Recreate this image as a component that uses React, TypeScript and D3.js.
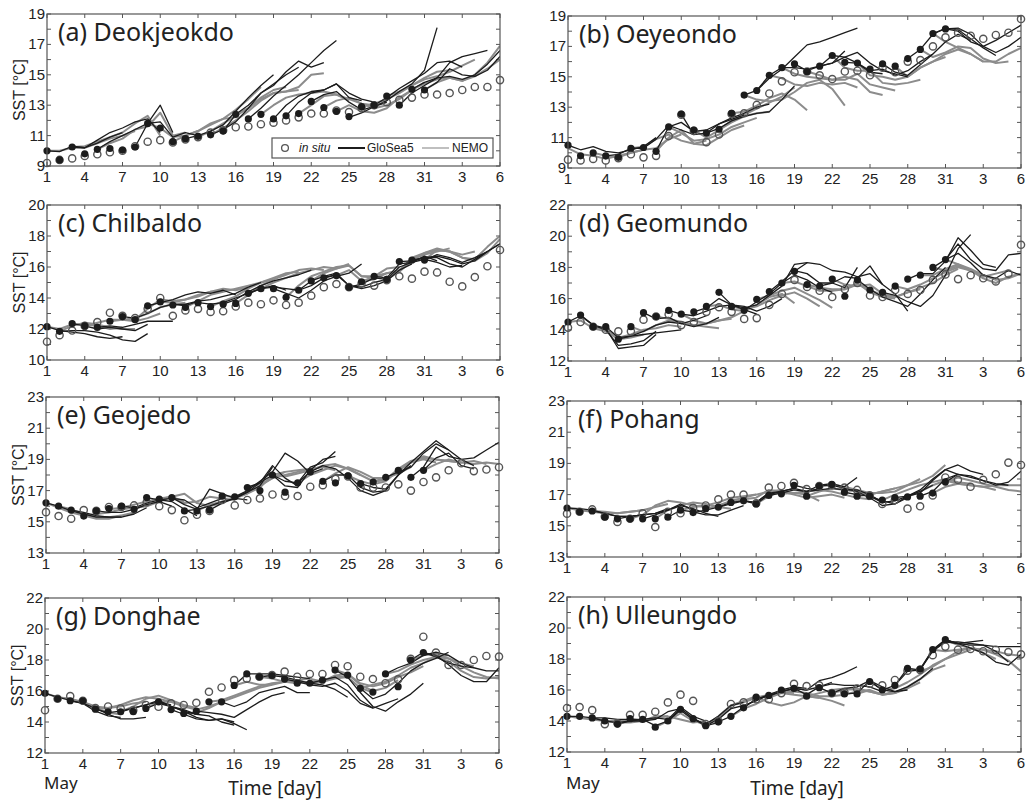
import React from "react";
import * as d3 from "d3";

// Day index: 1..31 = May 1..31, 32..37 = June 1..6
const DAYS = d3.range(1, 38);
const X_TICK_DAYS = [1, 4, 7, 10, 13, 16, 19, 22, 25, 28, 31, 34, 37];
const X_TICK_LABELS = ["1", "4", "7", "10", "13", "16", "19", "22", "25", "28", "31", "3", "6"];

const STATIONS = ["Deokjeokdo", "Oeyeondo", "Chilbaldo", "Geomundo", "Geojedo", "Pohang", "Donghae", "Ulleungdo"];
const PANEL_TAGS = ["(a)", "(b)", "(c)", "(d)", "(e)", "(f)", "(g)", "(h)"];
const Y_DOMAINS: [number, number][] = [[9, 19], [9, 19], [10, 20], [12, 22], [13, 23], [13, 23], [12, 22], [12, 22]];

// in situ SST, one value per day (May 1 - June 6)
const deokjeokdoInSitu = [9.2, 9.4, 9.5, 9.66, 9.77, 9.9, 10.0, 10.3, 10.6, 10.7, 10.55, 10.75, 10.9, 11.2, 11.35, 11.55, 11.6, 11.75, 11.85, 12.0, 12.2, 12.45, 12.45, 12.65, 12.55, 12.8, 13.0, 13.2, 13.35, 13.5, 13.7, 13.7, 13.8, 14.0, 14.2, 14.2, 14.65];
const oeyeondoInSitu = [9.55, 9.5, 9.6, 9.5, 9.65, 9.9, 9.7, 9.8, 11.1, 12.5, 11.45, 10.7, 11.2, 12.55, 12.6, 13.15, 13.9, 14.7, 15.3, 15.35, 15.1, 14.85, 15.35, 15.4, 15.1, 15.6, 15.3, 16.0, 16.1, 17.0, 17.6, 17.9, 17.7, 17.5, 17.75, 17.9, 18.8];
const chilbaldoInSitu = [11.18, 11.6, 11.9, 12.2, 12.45, 13.05, 12.85, 12.7, 13.3, 14.0, 12.85, 13.2, 13.3, 13.1, 13.15, 13.45, 13.7, 13.6, 13.85, 13.55, 13.7, 14.15, 14.7, 14.9, 14.7, 14.95, 14.8, 15.15, 15.4, 15.25, 15.7, 15.65, 15.05, 14.75, 15.35, 16.05, 17.1];
const geomundoInSitu = [14.14, 14.5, 14.2, 14.0, 13.9, 13.9, 14.65, 14.85, 15.0, 14.3, 14.5, 15.15, 15.45, 15.15, 14.7, 14.75, 15.6, 16.3, 17.2, 16.75, 16.5, 16.1, 16.6, 17.0, 16.2, 16.1, 16.55, 16.3, 16.55, 17.2, 17.55, 17.25, 17.5, 17.3, 17.1, 17.6, 19.45];
const geojedoInSitu = [15.62, 15.37, 15.2, 15.75, 15.7, 15.95, 15.95, 16.05, 16.25, 16.0, 15.75, 15.1, 15.45, 15.7, 16.4, 16.05, 16.4, 16.5, 16.75, 16.65, 16.65, 17.25, 17.35, 17.75, 17.9, 17.2, 17.2, 17.2, 17.4, 17.0, 17.55, 17.85, 18.3, 18.75, 18.25, 18.35, 18.5];
const pohangInSitu = [15.78, 15.9, 16.05, 15.6, 15.25, 15.45, 15.8, 14.92, 15.9, 15.8, 16.15, 16.3, 16.7, 17.0, 17.0, 16.45, 17.45, 17.55, 17.75, 17.35, 17.55, 17.6, 17.45, 17.3, 16.95, 16.4, 16.65, 16.1, 16.25, 16.95, 18.1, 17.95, 17.5, 17.95, 18.3, 19.05, 18.9];
const donghaeInSitu = [14.76, 15.5, 15.67, 15.37, 14.9, 15.0, 14.87, 14.76, 15.1, 14.98, 15.2, 15.1, 15.24, 15.95, 16.23, 16.7, 16.8, 16.92, 17.03, 17.25, 16.92, 17.1, 17.1, 17.68, 17.6, 16.92, 16.77, 16.5, 16.75, 18.07, 19.5, 18.48, 17.68, 17.68, 18.0, 18.26, 18.22];
const ulleungdoInSitu = [14.84, 14.9, 14.7, 13.8, 13.85, 14.4, 14.4, 14.6, 15.2, 15.7, 15.3, 13.8, 14.0, 15.1, 15.2, 15.4, 15.4, 15.8, 16.4, 16.25, 16.3, 15.8, 15.85, 16.1, 16.4, 16.3, 16.65, 17.25, 17.3, 18.25, 18.8, 18.6, 18.65, 18.5, 18.6, 18.45, 18.3];

// GloSea5 initial-condition SST (filled dots), May 1 - 31
const deokjeokdoInit = [10.0, 9.4, 10.25, 9.8, 10.1, 10.15, 10.05, 10.25, 11.8, 11.5, 10.6, 10.8, 10.95, 11.05, 11.3, 12.4, 12.1, 12.4, 12.1, 12.3, 12.45, 13.25, 12.85, 12.6, 12.25, 12.9, 13.0, 13.6, 13.0, 14.05, 14.0];
const oeyeondoInit = [10.5, 9.8, 10.0, 9.8, 9.7, 10.3, 10.35, 10.1, 11.7, 12.55, 11.5, 11.3, 11.55, 12.6, 13.8, 14.1, 15.1, 15.6, 15.85, 15.35, 15.7, 16.4, 15.95, 15.9, 15.5, 15.85, 15.7, 16.2, 16.8, 17.85, 18.15];
const chilbaldoInit = [12.15, 11.85, 12.35, 12.2, 12.1, 12.5, 12.8, 12.6, 13.5, 13.75, 13.55, 13.4, 13.7, 13.45, 13.6, 13.65, 14.3, 14.6, 14.6, 14.05, 14.5, 15.1, 15.3, 15.45, 14.7, 15.05, 15.4, 15.2, 16.35, 16.45, 16.45];
const geomundoInit = [14.5, 14.95, 14.2, 14.2, 13.4, 14.2, 15.1, 14.85, 15.25, 15.0, 15.15, 15.5, 16.4, 15.5, 15.25, 15.95, 16.45, 17.0, 17.75, 16.9, 16.8, 17.25, 16.15, 17.2, 16.55, 16.4, 16.8, 17.25, 17.5, 18.0, 18.5];
const geojedoInit = [16.22, 16.0, 15.75, 15.37, 15.7, 15.85, 16.0, 15.8, 16.55, 16.45, 16.55, 15.7, 15.7, 15.75, 16.65, 16.6, 17.2, 17.0, 18.0, 16.9, 17.5, 18.2, 17.6, 17.5, 17.95, 17.45, 17.55, 17.85, 18.3, 17.85, 18.3];
const pohangInit = [16.14, 15.9, 15.95, 15.55, 15.45, 15.45, 15.45, 15.45, 15.55, 16.0, 15.85, 16.1, 16.2, 16.5, 16.6, 16.4, 16.95, 17.05, 17.6, 16.9, 17.55, 17.65, 17.15, 16.9, 16.9, 16.65, 16.8, 16.85, 16.9, 17.1, 17.8];
const donghaeInit = [15.85, 15.5, 15.37, 15.37, 14.83, 14.66, 14.66, 14.66, 14.87, 15.3, 14.8, 14.55, 14.7, 15.3, 15.3, 16.36, 17.1, 16.92, 17.0, 16.77, 16.5, 16.5, 16.7, 17.35, 17.03, 16.17, 15.93, 17.1, 16.28, 18.0, 18.48];
const ulleungdoInit = [14.3, 14.3, 14.2, 14.0, 13.8, 14.15, 14.1, 13.6, 14.0, 14.75, 14.15, 13.7, 13.95, 14.3, 14.85, 15.55, 15.65, 16.0, 16.1, 15.6, 16.15, 15.8, 15.75, 15.75, 16.55, 16.0, 16.3, 17.4, 17.35, 18.6, 19.25];

// Forecast runs: [start day, SST at start day, next day, ...]
const deokjeokdoGloSea5 = [
  [1, 10.0, 9.95, 10.3, 10.2, 10.5, 10.9, 11.2],
  [3, 10.25, 10.2, 10.7, 11.2, 11.5, 11.9, 12.1, 11.2],
  [5, 10.1, 10.6, 11.0, 11.4, 11.8, 13.0, 11.2],
  [8, 10.25, 11.8, 11.9, 10.9, 11.2, 11.0],
  [12, 10.8, 11.0, 11.3, 11.7, 12.6, 13.5, 14.3, 15.0],
  [14, 11.05, 11.4, 11.9, 12.8, 13.8, 14.4, 15.0, 15.5],
  [15, 11.3, 12.4, 13.0, 13.8, 14.3, 15.2, 15.9, 15.5, 15.8],
  [17, 12.1, 12.8, 13.6, 14.3, 15.0, 15.8, 16.6, 17.25],
  [19, 12.1, 13.0, 13.6, 13.9, 14.0, 14.4, 13.5, 13.3],
  [20, 12.3, 13.2, 13.8, 14.0, 14.4, 13.8, 13.4, 13.2],
  [22, 13.25, 13.7, 13.9, 13.2, 12.7, 12.9, 13.2],
  [25, 12.2, 12.5, 12.9, 13.3, 13.9, 14.4, 15.3, 18.1],
  [27, 13.0, 13.5, 14.1, 14.6, 15.1, 15.8, 15.9, 15.5],
  [29, 13.0, 13.8, 14.3, 14.8, 15.8, 16.2, 16.4, 16.6],
  [30, 14.05, 14.5, 14.8, 14.9, 14.7, 15.0, 15.7, 16.6],
  [31, 14.0, 14.5, 15.4, 15.0, 14.9, 15.3, 16.2],
];
const deokjeokdoNemo = [
  [1, 10.0, 10.0, 10.2, 10.2, 10.5, 10.8, 11.0, 11.3],
  [3, 10.25, 10.3, 10.6, 10.9, 11.2, 11.8, 12.3, 11.0],
  [5, 10.1, 10.5, 10.8, 11.4, 11.6, 12.5, 11.0, 11.2],
  [9, 11.8, 11.5, 10.9, 11.0, 11.3, 11.8, 12.1, 12.2],
  [11, 10.6, 11.0, 11.3, 11.7, 12.1, 12.7, 13.4, 14.2],
  [13, 10.9, 11.3, 11.8, 12.3, 12.8, 13.5, 14.0, 14.2],
  [14, 11.05, 11.5, 12.0, 12.6, 13.3, 13.8, 13.9, 14.0],
  [16, 12.4, 12.8, 13.4, 13.8, 13.9, 14.2, 15.0, 15.1],
  [18, 12.4, 13.0, 13.5, 13.7, 13.8, 13.9, 13.7, 13.3],
  [21, 12.45, 13.0, 13.6, 13.7, 13.4, 13.1, 13.0, 13.2],
  [23, 12.85, 13.3, 13.5, 13.1, 12.8, 13.0, 13.4, 14.0],
  [24, 12.6, 13.0, 12.6, 12.5, 12.8, 13.5, 14.0, 14.5],
  [26, 12.9, 13.1, 13.4, 13.8, 14.3, 14.8, 15.2, 15.3],
  [28, 13.6, 13.9, 14.3, 14.7, 14.9, 15.2, 15.6, 16.0],
  [30, 14.05, 14.4, 14.7, 14.8, 14.6, 15.0, 15.8, 16.9],
  [31, 14.0, 14.5, 14.8, 14.6, 14.9, 15.4, 16.0],
];

const oeyeondoGloSea5 = [
  [1, 10.5, 10.2, 10.4, 10.1, 10.0, 10.2, 10.4, 11.0],
  [4, 9.8, 9.9, 10.3, 10.3, 10.9, 11.8, 11.5, 11.2],
  [8, 10.1, 11.7, 12.0, 11.4, 11.5, 11.9, 12.2, 12.5],
  [10, 12.55, 11.2, 11.3, 11.9, 12.3, 12.6, 13.0, 13.2],
  [12, 11.3, 11.6, 12.1, 12.4, 12.6, 12.7, 13.5, 14.4],
  [15, 13.8, 14.1, 15.1, 15.6, 15.6, 15.5, 15.7, 15.9, 16.7],
  [16, 14.1, 14.9, 15.5, 16.3, 17.1, 17.3, 17.6, 17.9, 18.2],
  [19, 15.85, 15.4, 15.7, 16.4, 16.3, 15.9, 15.3, 15.2],
  [21, 15.7, 15.9, 16.3, 16.6, 15.9, 15.4, 15.2, 15.0],
  [23, 15.95, 15.9, 15.4, 15.5, 15.1, 15.4, 16.0, 16.5],
  [26, 15.85, 15.3, 15.1, 15.8, 16.5, 17.3, 17.8, 17.4],
  [28, 16.2, 16.8, 17.8, 18.2, 18.1, 17.5, 16.9, 16.4],
  [30, 17.85, 18.15, 18.0, 17.3, 17.0, 17.4, 17.9, 18.4],
  [31, 18.15, 18.2, 17.8, 17.0, 16.6, 17.0, 17.6],
];
const oeyeondoNemo = [
  [1, 10.3, 9.9, 9.8, 9.6, 9.8, 10.0, 10.2],
  [3, 10.0, 9.8, 9.7, 10.0, 10.2, 10.3, 10.9, 11.2],
  [6, 10.3, 10.4, 10.9, 11.2, 10.8, 10.6, 10.8],
  [8, 10.1, 11.0, 11.5, 10.6, 10.5, 11.0, 11.5, 11.8],
  [9, 11.7, 11.3, 10.8, 10.9, 11.2, 11.7, 12.0, 12.3],
  [11, 11.5, 11.0, 11.5, 12.0, 12.4, 12.6, 12.7],
  [13, 11.55, 12.1, 12.5, 12.9, 13.3, 13.7, 14.3],
  [14, 12.6, 12.7, 13.1, 13.6, 13.9, 13.5, 12.8],
  [15, 13.8, 13.5, 13.4, 13.5, 14.0, 14.6, 14.8, 14.2, 13.1],
  [17, 15.1, 14.9, 14.5, 14.4, 14.6, 14.5, 14.6, 14.3],
  [18, 15.6, 15.2, 15.0, 14.9, 14.8, 15.0, 14.8, 14.0, 13.8],
  [20, 15.35, 15.1, 14.8, 14.8, 15.2, 14.5, 14.3, 14.1],
  [22, 16.4, 15.6, 15.4, 15.4, 14.6, 14.5, 14.6, 14.8],
  [24, 15.9, 15.1, 15.0, 14.8, 15.0, 15.6, 16.0, 16.3],
  [27, 15.7, 15.0, 15.6, 16.0, 16.5, 16.8, 16.5, 16.0],
  [29, 16.8, 16.3, 16.6, 17.0, 16.9, 16.2, 15.9, 16.0],
  [30, 17.85, 17.3, 16.9, 16.5, 16.0, 16.0, 16.5, 16.9],
];

const chilbaldoGloSea5 = [
  [1, 12.15, 11.9, 11.8, 11.7, 11.5, 11.4, 11.5],
  [2, 11.85, 11.9, 11.9, 11.8, 11.6, 11.3, 11.2, 11.7],
  [3, 12.35, 12.2, 12.0, 12.1, 12.0, 11.9, 12.3],
  [5, 12.1, 12.2, 12.1, 12.3, 12.5, 12.5, 12.5],
  [7, 12.8, 12.7, 13.0, 13.4, 13.6, 13.5, 13.8],
  [9, 13.5, 13.7, 13.9, 14.2, 14.4, 14.3, 14.5, 14.2],
  [11, 13.55, 13.6, 13.8, 13.9, 14.1, 14.3, 14.7, 15.0],
  [13, 13.7, 13.6, 13.7, 14.0, 14.3, 14.6, 14.8, 14.5],
  [15, 13.6, 13.9, 14.4, 14.8, 15.1, 15.3, 15.5, 15.8],
  [17, 14.3, 14.6, 14.7, 14.6, 14.5, 14.8, 15.3, 15.5],
  [19, 14.6, 14.3, 14.0, 14.5, 15.1, 15.4, 15.6, 16.2],
  [21, 14.5, 15.1, 15.4, 15.6, 14.8, 14.7, 15.0, 15.2],
  [23, 15.3, 15.5, 14.8, 14.6, 14.8, 15.1, 15.8, 16.2],
  [25, 14.7, 14.9, 15.3, 15.2, 16.0, 16.3, 16.7, 16.4],
  [27, 15.4, 15.3, 16.2, 16.3, 16.5, 16.3, 16.0, 16.1],
  [29, 16.35, 16.4, 16.6, 16.6, 16.2, 16.0, 16.5, 17.0],
  [30, 16.45, 16.6, 16.7, 16.5, 16.2, 16.4, 17.0, 17.5],
  [31, 16.45, 16.8, 16.6, 16.3, 16.6, 17.0, 17.5],
];
const chilbaldoNemo = [
  [1, 12.15, 12.0, 12.3, 12.3, 12.2, 12.0, 12.1],
  [2, 11.85, 12.2, 12.4, 12.3, 12.1, 12.0, 12.0],
  [4, 12.2, 12.4, 12.6, 12.6, 12.5, 12.7, 13.0],
  [6, 12.5, 12.6, 12.7, 13.0, 13.4, 13.6, 13.7],
  [8, 12.6, 13.3, 13.9, 13.8, 13.9, 14.2, 14.4, 14.4],
  [10, 13.75, 13.7, 13.9, 14.1, 14.4, 14.6, 14.5, 14.7],
  [12, 13.4, 13.8, 14.2, 14.4, 14.6, 14.8, 15.0, 15.2],
  [14, 13.45, 13.8, 14.1, 14.6, 15.0, 15.3, 15.6, 15.7],
  [16, 13.65, 14.2, 14.8, 15.2, 15.5, 15.8, 15.9, 15.8],
  [18, 14.6, 15.0, 15.3, 15.6, 15.8, 16.0, 15.9, 16.2],
  [20, 14.05, 14.8, 15.4, 15.7, 16.0, 16.1, 15.4, 15.3],
  [22, 15.1, 15.6, 15.9, 16.1, 15.4, 15.4, 15.9, 16.0],
  [24, 15.45, 15.8, 15.1, 15.2, 15.6, 15.7, 16.4, 16.6],
  [26, 15.05, 15.4, 15.6, 15.8, 16.5, 16.8, 17.0, 17.2],
  [28, 15.2, 15.7, 16.6, 16.9, 17.1, 17.0, 16.8, 17.0],
  [30, 16.45, 16.9, 17.2, 17.0, 16.6, 16.5, 17.3, 18.0],
  [31, 16.45, 17.1, 17.0, 16.6, 16.4, 16.9, 17.8],
];

const geomundoGloSea5 = [
  [1, 14.5, 14.9, 14.3, 14.0, 13.0, 13.1, 13.3, 13.9],
  [2, 14.95, 14.3, 14.1, 12.8, 12.9, 13.0, 13.7],
  [4, 14.2, 13.5, 13.6, 13.7, 13.8, 13.9, 14.0],
  [5, 13.4, 13.6, 13.9, 14.3, 14.5, 14.4, 14.6, 14.9],
  [7, 15.1, 14.7, 14.8, 14.4, 14.2, 14.4, 14.8],
  [9, 15.25, 15.0, 14.9, 15.2, 15.5, 15.6, 15.3, 15.0],
  [11, 15.15, 15.4, 16.0, 15.6, 15.5, 15.2, 15.5, 16.0],
  [13, 16.4, 15.6, 15.4, 15.6, 16.2, 16.8, 18.2, 18.3],
  [15, 15.25, 15.8, 16.3, 17.0, 17.5, 17.2, 16.7, 16.4],
  [17, 16.45, 17.1, 17.8, 17.6, 17.0, 17.0, 16.7, 18.0],
  [19, 17.75, 18.3, 18.2, 17.8, 17.7, 17.4, 17.6, 16.9],
  [21, 16.8, 17.0, 17.4, 17.3, 18.1, 16.9, 16.3, 15.2],
  [24, 17.2, 16.6, 16.1, 15.8, 15.5, 16.3, 17.2, 18.0],
  [26, 16.4, 16.2, 15.8, 15.5, 16.2, 17.5, 19.2, 20.1],
  [28, 17.25, 17.6, 17.6, 18.4, 19.9, 19.1, 18.2, 18.0],
  [30, 18.0, 18.5, 19.5, 18.5, 17.9, 17.8, 18.8, 18.9],
  [31, 18.5, 18.9, 18.3, 17.5, 17.3, 17.8, 17.5],
];
const geomundoNemo = [
  [1, 14.5, 14.6, 14.1, 13.9, 13.4, 13.5, 13.7],
  [3, 14.2, 14.0, 13.5, 13.7, 14.0, 14.1, 14.3, 14.2],
  [6, 14.2, 13.9, 14.3, 14.6, 14.5, 14.3, 14.2, 14.1],
  [8, 14.85, 14.7, 14.5, 14.3, 14.4, 14.6, 14.7],
  [10, 15.0, 14.6, 14.4, 14.6, 14.8, 15.2],
  [12, 15.5, 15.6, 15.3, 15.2, 15.6, 16.1, 16.3, 15.7],
  [14, 15.5, 15.3, 15.5, 15.9, 16.2, 16.4, 16.0, 15.5],
  [16, 15.95, 16.2, 16.5, 16.7, 16.3, 15.9, 15.4],
  [18, 17.0, 17.1, 16.8, 16.5, 16.5, 16.6, 16.9, 16.6],
  [20, 16.9, 16.7, 16.6, 16.6, 17.0, 16.4, 16.1, 16.0],
  [22, 17.25, 16.9, 16.8, 16.9, 16.3, 16.1, 16.4, 16.6],
  [25, 16.55, 16.2, 16.1, 16.4, 16.7, 17.0, 17.5, 17.9],
  [27, 16.8, 16.6, 16.9, 17.3, 17.7, 18.0, 17.8, 17.5],
  [29, 17.5, 17.5, 17.9, 18.2, 17.8, 17.4, 17.6, 17.8],
  [30, 18.0, 17.8, 18.1, 17.8, 17.3, 17.0, 17.4, 17.6],
  [31, 18.5, 18.2, 17.9, 17.5, 17.2, 17.3, 17.6],
];

const geojedoGloSea5 = [
  [1, 16.22, 16.0, 15.7, 15.5, 15.3, 15.3, 15.3],
  [3, 15.75, 15.6, 15.4, 15.3, 15.3, 15.5, 15.9],
  [5, 15.7, 15.6, 15.6, 15.8, 16.1, 16.3, 16.0],
  [7, 16.0, 15.9, 16.2, 16.4, 16.3, 15.8, 15.4],
  [9, 16.55, 16.4, 16.5, 16.4, 15.9, 16.2, 16.5],
  [11, 16.55, 16.1, 15.8, 17.1, 16.8, 16.5, 16.4],
  [12, 15.7, 15.8, 16.0, 16.3, 16.5, 16.9, 17.3, 18.5],
  [14, 15.75, 16.2, 16.5, 16.9, 17.5, 18.6, 17.8, 17.3],
  [16, 16.6, 17.0, 17.6, 18.2, 19.4, 18.9, 18.1, 18.4],
  [17, 17.2, 17.5, 18.0, 17.3, 17.2, 18.3, 19.0, 19.2],
  [19, 18.0, 17.6, 17.5, 18.5, 18.8, 19.5],
  [21, 17.5, 18.2, 18.6, 18.4, 17.8, 17.0, 16.7, 17.0],
  [23, 17.6, 18.0, 18.0, 17.2, 16.9, 17.0, 18.0, 18.6],
  [26, 17.45, 17.2, 17.1, 18.0, 18.8, 19.5, 20.2, 19.6],
  [28, 17.85, 18.2, 18.5, 19.4, 20.0, 19.6, 19.0, 18.6],
  [30, 17.85, 18.5, 19.8, 19.2, 19.0, 19.1, 19.6, 20.1],
  [31, 18.3, 19.1, 19.4, 18.6, 18.4],
];
const geojedoNemo = [
  [1, 16.22, 15.9, 15.6, 15.4, 15.2, 15.2, 15.4],
  [2, 16.0, 15.8, 15.5, 15.3, 15.3, 15.4, 15.6],
  [4, 15.37, 15.5, 15.6, 15.8, 15.9, 16.0, 16.3],
  [6, 15.8, 15.9, 16.1, 16.3, 16.5, 16.6, 16.3],
  [8, 15.8, 16.1, 16.3, 16.6, 16.8, 16.2, 16.0, 16.2],
  [10, 16.45, 16.6, 16.2, 16.3, 16.6, 16.5, 16.4],
  [13, 15.7, 16.1, 16.3, 16.5, 16.8, 17.2, 18.0, 18.2],
  [15, 16.65, 16.6, 16.9, 17.3, 17.8, 18.2, 18.3, 18.4],
  [17, 17.2, 17.4, 17.8, 18.0, 18.2, 18.4, 18.5, 18.3],
  [19, 18.0, 17.9, 18.1, 18.3, 18.6, 18.7, 18.4, 18.0],
  [21, 17.5, 18.0, 18.3, 18.6, 18.4, 18.0, 17.6, 17.8],
  [23, 17.6, 18.1, 18.5, 18.2, 17.8, 17.8, 18.1, 18.5],
  [25, 17.95, 17.6, 17.4, 17.6, 18.3, 18.8, 19.0, 18.8],
  [27, 17.55, 17.7, 18.4, 18.9, 19.1, 19.0, 18.9, 18.8],
  [29, 18.3, 18.8, 19.2, 19.0, 18.9, 18.8, 18.9, 18.7],
  [31, 18.3, 18.7, 19.0, 18.8, 18.7, 18.8, 18.7],
];

const pohangGloSea5 = [
  [1, 16.14, 16.1, 16.0, 15.8, 15.6, 15.6, 15.7],
  [3, 15.95, 15.8, 15.6, 15.6, 15.7, 15.8, 16.1],
  [5, 15.45, 15.6, 15.7, 15.8, 16.0, 16.4, 16.0],
  [7, 15.45, 15.7, 16.0, 16.3, 16.1, 15.8, 15.6],
  [9, 15.55, 16.0, 15.9, 15.7, 15.7, 16.0, 16.3],
  [11, 15.85, 16.0, 16.2, 16.5, 16.6, 16.5, 17.1],
  [13, 16.2, 16.4, 16.6, 16.5, 17.1, 17.2, 17.4],
  [15, 16.6, 16.4, 17.0, 17.2, 17.4, 17.2, 17.3],
  [17, 16.95, 17.1, 17.3, 17.2, 17.6, 17.7, 17.5, 18.1],
  [19, 17.6, 17.4, 17.3, 17.4, 17.3, 17.3, 17.0, 16.5],
  [21, 17.55, 17.6, 17.4, 17.2, 16.8, 16.3, 16.4, 16.8],
  [23, 17.15, 17.0, 16.9, 16.5, 16.6, 16.9, 17.2, 17.6],
  [25, 16.9, 16.6, 16.4, 16.9, 17.3, 18.0, 18.6, 18.3],
  [27, 16.8, 16.9, 17.1, 17.9, 18.6, 18.9, 18.5, 18.3],
  [29, 16.9, 17.2, 18.0, 18.3, 18.1, 17.9, 17.7, 17.6],
  [31, 17.8, 18.3, 18.2, 17.9, 17.6, 17.8, 18.5],
];
const pohangNemo = [
  [1, 16.14, 16.0, 15.9, 15.8, 15.8, 15.9, 16.0],
  [3, 15.95, 15.9, 15.8, 15.9, 16.0, 16.2, 16.4],
  [6, 15.45, 15.7, 16.3, 16.6, 16.5, 16.3, 16.2],
  [8, 15.45, 16.0, 16.3, 16.5, 16.4, 16.2, 16.1],
  [10, 16.0, 16.2, 16.3, 16.5, 16.8, 16.9, 17.0],
  [12, 16.1, 16.3, 16.6, 16.8, 17.0, 17.2, 17.3],
  [14, 16.5, 16.7, 16.8, 17.3, 17.2, 17.1, 17.0, 16.6],
  [16, 16.4, 16.9, 17.2, 17.0, 16.8, 16.9, 17.0, 16.8],
  [18, 17.05, 17.1, 17.2, 17.3, 17.2, 17.0, 16.8, 16.7],
  [20, 16.9, 17.2, 17.4, 17.3, 17.2, 17.0, 17.2, 17.4],
  [22, 17.65, 17.5, 17.3, 17.1, 17.1, 17.2, 17.6, 18.0],
  [24, 16.9, 17.0, 17.2, 17.4, 17.6, 17.8, 18.2, 18.9],
  [26, 16.65, 17.0, 17.3, 17.6, 17.8, 18.0, 17.8, 17.7],
  [28, 16.85, 17.2, 17.6, 17.9, 17.7, 17.6, 17.5, 17.3],
  [30, 17.1, 17.5, 17.7, 17.6, 17.5, 17.6, 17.6, 17.6],
  [31, 17.8, 18.1, 17.9, 17.7, 17.5, 17.3, 17.2],
];

const donghaeGloSea5 = [
  [1, 15.85, 15.6, 15.4, 15.2, 14.7, 14.4, 14.3],
  [3, 15.37, 15.2, 14.9, 14.5, 14.2, 14.2, 14.3],
  [5, 14.83, 14.6, 14.7, 14.9, 15.1, 15.3, 15.1],
  [7, 14.66, 14.9, 15.1, 15.4, 15.0, 14.7, 14.5],
  [9, 14.87, 15.2, 15.0, 14.8, 14.5, 14.4, 14.0, 13.8],
  [10, 15.3, 15.0, 14.7, 14.3, 14.1, 14.2, 14.0],
  [11, 14.8, 14.5, 14.2, 14.1, 14.2, 13.9, 13.5],
  [13, 14.7, 14.6, 14.5, 14.3, 14.8, 15.3, 15.7, 15.9],
  [15, 15.3, 15.0, 15.3, 15.9, 16.1, 16.3, 15.9, 15.9],
  [16, 16.36, 17.1, 17.1, 17.1, 17.0, 16.9, 16.8],
  [18, 16.92, 17.0, 16.9, 16.7, 16.5, 16.4, 16.1, 15.6],
  [20, 16.77, 16.6, 16.4, 16.3, 16.5, 16.0, 15.2, 14.9],
  [22, 16.5, 16.7, 16.9, 16.4, 15.4, 14.9, 15.2, 15.5],
  [24, 17.35, 16.9, 15.9, 15.0, 14.7, 15.3, 15.8, 16.5],
  [26, 16.17, 15.5, 15.8, 16.5, 17.3, 17.8, 18.1, 18.5],
  [28, 17.1, 17.5, 17.8, 18.3, 18.5, 18.3, 17.8, 17.5],
  [30, 18.0, 18.5, 18.2, 17.8, 17.6, 17.5, 17.3, 17.3],
  [31, 18.48, 18.3, 17.7, 17.0, 16.6, 16.6, 17.5],
];
const donghaeNemo = [
  [1, 15.85, 15.6, 15.5, 15.3, 14.9, 14.6, 14.5],
  [3, 15.37, 15.3, 15.0, 14.9, 15.0, 15.2, 15.3],
  [5, 14.83, 14.9, 15.1, 15.4, 15.6, 15.5, 15.3],
  [7, 14.66, 15.0, 15.5, 15.7, 15.4, 15.1, 14.9],
  [9, 14.87, 15.3, 15.3, 15.0, 14.8, 15.0, 15.3],
  [12, 14.55, 14.6, 14.9, 15.3, 15.6, 15.9, 16.2, 16.4],
  [14, 15.3, 15.4, 15.7, 16.0, 16.3, 16.5, 16.6, 16.7],
  [16, 16.36, 16.6, 16.4, 16.4, 16.6, 16.7, 16.8, 16.6],
  [18, 16.92, 16.8, 16.6, 16.5, 16.6, 16.7, 16.9, 16.9],
  [20, 16.77, 16.6, 16.5, 16.6, 16.8, 16.9, 16.2, 15.9],
  [22, 16.5, 16.6, 17.0, 17.1, 16.4, 16.0, 16.2, 16.7],
  [24, 17.35, 17.1, 16.5, 16.3, 16.5, 16.9, 17.2, 17.6],
  [26, 16.17, 16.4, 16.6, 17.0, 17.5, 17.8, 18.2, 18.3],
  [28, 17.1, 17.3, 17.7, 18.0, 18.2, 18.1, 17.8, 17.6],
  [30, 18.0, 18.3, 18.4, 18.1, 17.6, 17.2, 16.9, 16.8],
  [31, 18.48, 18.2, 17.9, 17.3, 16.9, 16.8, 16.9],
];

const ulleungdoGloSea5 = [
  [1, 14.3, 14.3, 14.2, 14.2, 14.1, 14.1, 14.1],
  [3, 14.2, 14.0, 13.9, 14.0, 14.0, 14.1, 14.6, 14.8],
  [5, 13.8, 14.0, 14.1, 14.2, 14.1, 14.9, 14.3, 14.0],
  [7, 14.1, 13.7, 14.0, 14.8, 14.2, 13.7, 13.9],
  [9, 14.0, 14.7, 14.1, 13.8, 14.3, 15.0, 15.2],
  [11, 14.15, 13.7, 14.1, 14.8, 15.0, 15.3, 15.7],
  [13, 13.95, 14.3, 14.9, 15.4, 15.7, 16.0, 16.2, 16.1],
  [15, 14.85, 15.4, 15.6, 15.9, 16.1, 16.0, 16.2, 16.5],
  [17, 15.65, 15.9, 16.1, 16.0, 16.6, 16.8, 17.1, 17.5],
  [19, 16.1, 15.7, 16.2, 16.4, 16.3, 16.3, 16.2, 15.9],
  [21, 16.15, 15.8, 16.1, 16.2, 16.6, 16.0, 15.9, 16.0],
  [23, 15.75, 15.8, 16.6, 16.2, 15.9, 16.2, 16.7, 17.4],
  [25, 16.55, 16.0, 16.3, 17.4, 17.3, 18.6, 19.2, 19.0],
  [27, 16.3, 17.2, 17.3, 18.5, 19.1, 19.0, 19.1, 19.2],
  [29, 17.35, 18.6, 19.1, 19.1, 19.0, 18.9, 18.5, 17.8],
  [30, 18.6, 19.25, 19.0, 18.7, 18.4, 17.8, 17.6, 18.3],
  [31, 19.25, 19.0, 18.9, 18.9, 18.8, 18.8, 18.8],
];
const ulleungdoNemo = [
  [1, 14.3, 14.2, 14.1, 14.0, 14.0, 14.0, 14.1],
  [3, 14.2, 14.0, 13.9, 13.9, 14.0, 14.2, 14.3],
  [6, 14.15, 14.0, 14.3, 14.3, 14.1, 13.9, 14.0],
  [8, 13.6, 14.0, 14.5, 14.0, 13.8, 14.2, 14.8],
  [10, 14.75, 14.1, 13.7, 14.2, 15.0, 15.3, 15.6],
  [12, 13.7, 14.3, 15.0, 15.2, 15.5, 15.7, 15.9, 15.8],
  [14, 14.3, 14.8, 15.1, 15.5, 15.8, 15.7, 15.6, 15.5],
  [16, 15.55, 15.2, 15.0, 15.2, 15.6, 15.5, 15.3, 15.0],
  [18, 16.0, 15.9, 15.8, 15.6, 15.6, 15.7, 15.9, 16.0],
  [20, 15.6, 15.8, 16.0, 16.1, 16.0, 15.9, 15.7, 15.9],
  [22, 15.8, 16.0, 16.1, 15.9, 15.7, 15.8, 16.1, 16.5],
  [24, 15.75, 16.0, 15.7, 15.8, 16.2, 16.7, 17.3, 17.6],
  [26, 16.0, 16.1, 16.5, 17.0, 17.6, 18.0, 18.3, 18.6],
  [28, 17.4, 17.2, 17.5, 18.0, 18.5, 18.7, 18.4, 18.0],
  [30, 18.6, 18.5, 18.6, 18.7, 18.6, 18.3, 17.9, 17.2],
  [31, 19.25, 18.9, 18.7, 18.6, 18.5, 18.3, 18.2],
];

const IN_SITU = [deokjeokdoInSitu, oeyeondoInSitu, chilbaldoInSitu, geomundoInSitu, geojedoInSitu, pohangInSitu, donghaeInSitu, ulleungdoInSitu];
const INIT = [deokjeokdoInit, oeyeondoInit, chilbaldoInit, geomundoInit, geojedoInit, pohangInit, donghaeInit, ulleungdoInit];
const GLOSEA5 = [deokjeokdoGloSea5, oeyeondoGloSea5, chilbaldoGloSea5, geomundoGloSea5, geojedoGloSea5, pohangGloSea5, donghaeGloSea5, ulleungdoGloSea5];
const NEMO = [deokjeokdoNemo, oeyeondoNemo, chilbaldoNemo, geomundoNemo, geojedoNemo, pohangNemo, donghaeNemo, ulleungdoNemo];

// Plot-area rectangles for the 4x2 grid
const LAYOUT = [
  { x0: 47, x1: 500, y0: 14, y1: 166 },
  { x0: 568, x1: 1021, y0: 16, y1: 168 },
  { x0: 47, x1: 500, y0: 205, y1: 360 },
  { x0: 568, x1: 1021, y0: 205, y1: 361 },
  { x0: 46, x1: 499, y0: 397, y1: 553 },
  { x0: 567, x1: 1021, y0: 401, y1: 557 },
  { x0: 45, x1: 499, y0: 598, y1: 753 },
  { x0: 567, x1: 1021, y0: 597, y1: 752 },
];

const BLACK = "#1c1c1c";
const GREY = "#8c8c8c";
const CIRCLE = "#555";
const FRAME = "#555";
const TICK_FONT = "'Liberation Sans', Arial, sans-serif";
const TITLE_FONT = "'Noto Sans', 'Open Sans', sans-serif";

function Panel({ idx }: { idx: number }) {
  const L = LAYOUT[idx];
  const [ymin, ymax] = Y_DOMAINS[idx];
  const x = d3.scaleLinear().domain([1, 37]).range([L.x0, L.x1]);
  const y = d3.scaleLinear().domain([ymin, ymax]).range([L.y1, L.y0]);
  const line = d3.line<[number, number]>().x((d) => x(d[0])).y((d) => y(d[1]));
  const runPoints = (run: number[]) => {
    const [start, ...vals] = run;
    return vals.map((v, i) => [start + i, v] as [number, number]);
  };
  const yMinor = d3.range(ymin, ymax + 0.001, 1);
  const yMajor = d3.range(ymin, ymax + 0.001, 2);
  const isLeft = idx % 2 === 0;
  const tickLen = 4;

  return (
    <g>
      <defs>
        <clipPath id={`clip-${idx}`}>
          <rect x={L.x0} y={L.y0} width={L.x1 - L.x0} height={L.y1 - L.y0} />
        </clipPath>
      </defs>
      <rect x={L.x0} y={L.y0} width={L.x1 - L.x0} height={L.y1 - L.y0} fill="#fff" />

      {/* ticks, inward on all four sides */}
      {X_TICK_DAYS.map((d) => (
        <g key={`xt${d}`}>
          <line x1={x(d)} x2={x(d)} y1={L.y1} y2={L.y1 - tickLen} stroke={FRAME} />
          <line x1={x(d)} x2={x(d)} y1={L.y0} y2={L.y0 + tickLen} stroke={FRAME} />
        </g>
      ))}
      {yMinor.map((v) => (
        <g key={`yt${v}`}>
          <line x1={L.x0} x2={L.x0 + tickLen} y1={y(v)} y2={y(v)} stroke={FRAME} />
          <line x1={L.x1} x2={L.x1 - tickLen} y1={y(v)} y2={y(v)} stroke={FRAME} />
        </g>
      ))}

      <g clipPath={`url(#clip-${idx})`}>
        {NEMO[idx].map((run, i) => (
          <path key={`n${i}`} d={line(runPoints(run)) || ""} fill="none" stroke={GREY} strokeWidth={2} strokeLinejoin="round" />
        ))}
        {GLOSEA5[idx].map((run, i) => (
          <path key={`g${i}`} d={line(runPoints(run)) || ""} fill="none" stroke={BLACK} strokeWidth={1.3} strokeLinejoin="round" />
        ))}
      </g>

      {IN_SITU[idx].map((v, i) => (
        <circle key={`o${i}`} cx={x(DAYS[i])} cy={y(v)} r={3.6} fill="none" stroke={CIRCLE} strokeWidth={1.4} />
      ))}
      {INIT[idx].map((v, i) => (
        <circle key={`f${i}`} cx={x(DAYS[i])} cy={y(v)} r={3.6} fill={BLACK} />
      ))}

      <rect x={L.x0} y={L.y0} width={L.x1 - L.x0} height={L.y1 - L.y0} fill="none" stroke={FRAME} strokeWidth={1.2} />

      {/* tick labels */}
      {X_TICK_DAYS.map((d, i) => (
        <text key={`xl${d}`} x={x(d)} y={L.y1 + 16} textAnchor="middle" fontSize={15} fontFamily={TICK_FONT} fill="#222">
          {X_TICK_LABELS[i]}
        </text>
      ))}
      {yMajor.map((v) => (
        <text key={`yl${v}`} x={L.x0 - 2} y={y(v) + 5} textAnchor="end" fontSize={15} fontFamily={TICK_FONT} fill="#222">
          {v}
        </text>
      ))}

      <text x={L.x0 + 11} y={L.y0 + 27} fontSize={25} fontFamily={TITLE_FONT} fill="#222">
        {PANEL_TAGS[idx]} {STATIONS[idx]}
      </text>

      {isLeft && (
        <text
          transform={`translate(${L.x0 - 22},${(L.y0 + L.y1) / 2}) rotate(-90)`}
          textAnchor="middle"
          fontSize={16}
          fontFamily={TICK_FONT}
          fill="#222"
        >
          SST [°C]
        </text>
      )}
    </g>
  );
}

function Legend() {
  const L = LAYOUT[0];
  const bx = 272;
  const by = 138;
  const cy = by + 10;
  return (
    <g fontFamily={TICK_FONT} fontSize={12} fill="#222">
      <rect x={bx} y={by} width={L.x1 - 7 - bx} height={20} fill="#fff" stroke={FRAME} strokeWidth={1.2} />
      <circle cx={285} cy={cy} r={3.4} fill="none" stroke={CIRCLE} strokeWidth={1.3} />
      <text x={299} y={cy + 4} fontStyle="italic">in situ</text>
      <line x1={338} x2={365} y1={cy} y2={cy} stroke={BLACK} strokeWidth={2} />
      <text x={367} y={cy + 4}>GloSea5</text>
      <line x1={422} x2={449} y1={cy} y2={cy} stroke="#aaa" strokeWidth={1.5} />
      <text x={452} y={cy + 4}>NEMO</text>
    </g>
  );
}

export default function App() {
  const bottomLeft = LAYOUT[6];
  const bottomRight = LAYOUT[7];
  return (
    <svg width={1029} height={802} style={{ position: "absolute", left: 0, top: 0, background: "#fff" }}>
      {STATIONS.map((_, i) => (
        <Panel key={i} idx={i} />
      ))}
      <Legend />
      {[bottomLeft, bottomRight].map((L, i) => (
        <g key={`xlab${i}`} fontFamily={TITLE_FONT} fill="#222">
          <text x={L.x0 - 1} y={789} fontSize={17}>May</text>
          <text x={(L.x0 + L.x1) / 2 + 3} y={795} fontSize={19} textAnchor="middle">Time [day]</text>
        </g>
      ))}
    </svg>
  );
}
